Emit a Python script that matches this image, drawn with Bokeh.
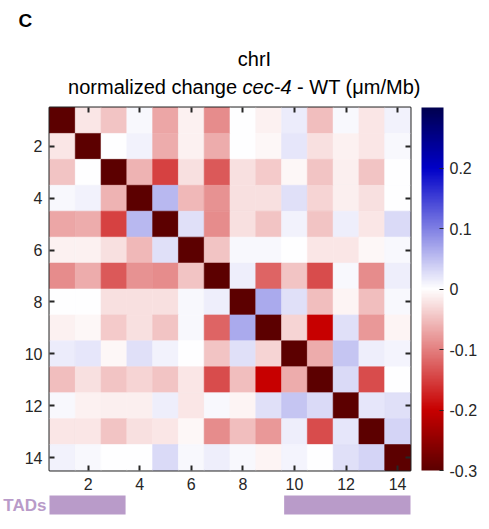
import numpy as np
from bokeh.plotting import figure
from bokeh.models import (LinearColorMapper, ColorBar, FixedTicker, LinearAxis, Range1d,
                          CustomJSTickFormatter, ColumnDataSource)
from bokeh.layouts import column
from bokeh.embed import file_html
from bokeh.resources import INLINE
from bokeh.core.properties import value

# ---------------- data ----------------
bins = list(range(1, 15))
N = None  # diagonal (masked)
row01 = [N, -0.02, -0.045, 0.005, -0.07, -0.01, -0.09, 0.0, -0.01, 0.015, -0.05, 0.005, -0.02, 0.01]
row02 = [-0.02, N, 0.0, 0.01, -0.065, -0.01, -0.065, 0.0, -0.005, 0.02, -0.025, -0.01, -0.02, 0.005]
row03 = [-0.045, 0.0, N, -0.06, -0.15, -0.025, -0.13, -0.025, -0.04, -0.005, -0.045, -0.012, -0.045, 0.0]
row04 = [0.005, 0.01, -0.06, N, 0.055, -0.055, -0.085, -0.025, -0.025, 0.025, -0.035, -0.012, -0.025, 0.0]
row05 = [-0.07, -0.065, -0.15, 0.055, N, 0.025, -0.09, -0.025, -0.045, 0.01, -0.045, 0.012, -0.02, 0.03]
row06 = [-0.01, -0.01, -0.025, -0.055, 0.025, N, -0.045, 0.005, 0.005, 0.0, -0.02, -0.02, -0.005, 0.005]
row07 = [-0.09, -0.065, -0.13, -0.085, -0.09, -0.045, N, 0.012, -0.12, -0.045, -0.14, 0.005, -0.09, 0.012]
row08 = [0.0, 0.0, -0.025, -0.025, -0.025, 0.005, 0.012, N, 0.067, 0.025, -0.05, -0.008, -0.05, 0.005]
row09 = [-0.01, -0.005, -0.04, -0.025, -0.045, 0.005, -0.12, 0.067, N, -0.035, -0.2, 0.025, -0.08, -0.008]
row10 = [0.015, 0.02, -0.005, 0.025, 0.01, 0.0, -0.045, 0.025, -0.035, N, -0.065, 0.045, 0.012, 0.008]
row11 = [-0.05, -0.025, -0.045, -0.035, -0.045, -0.02, -0.14, -0.05, -0.2, -0.065, N, 0.03, -0.14, 0.0]
row12 = [0.005, -0.01, -0.012, -0.012, 0.012, -0.02, 0.005, -0.008, 0.025, 0.045, 0.03, N, 0.02, 0.025]
row13 = [-0.02, -0.02, -0.045, -0.025, -0.02, -0.005, -0.09, -0.05, -0.08, 0.012, -0.14, 0.02, N, 0.035]
row14 = [0.01, 0.005, 0.0, 0.0, 0.03, 0.005, 0.012, 0.005, -0.008, 0.008, 0.0, 0.025, 0.035, N]
matrix = [row01, row02, row03, row04, row05, row06, row07,
          row08, row09, row10, row11, row12, row13, row14]

axis_ticks = [2, 4, 6, 8, 10, 12, 14]
cbar_ticks = [-0.3, -0.2, -0.1, 0, 0.1, 0.2]
clim = (-0.3, 0.3)

tad_start = [0.5, 9.6]
tad_end = [3.45, 14.5]

# ---------------- colormap ----------------
anchor_v = [-0.3, -0.2, 0.0, 0.2, 0.3]
anchor_c = [(92, 0, 0), (200, 0, 0), (255, 255, 255), (0, 0, 200), (0, 0, 80)]
grid = np.linspace(clim[0], clim[1], 256)
palette = []
for g in grid:
    rgb = [int(round(np.interp(g, anchor_v, [c[k] for c in anchor_c]))) for k in range(3)]
    palette.append("#%02x%02x%02x" % tuple(rgb))
mapper = LinearColorMapper(palette=palette, low=clim[0], high=clim[1], nan_color=palette[0])

xs, ys, vs = [], [], []
for i, row in enumerate(matrix):
    for j, v in enumerate(row):
        xs.append(bins[j]); ys.append(bins[i])
        vs.append(np.nan if v is None else v)
src = ColumnDataSource(dict(x=xs, y=ys, v=vs))

FONT = "Liberation Sans"
DARK = "#262626"
W, FL, FW, FR = 489, 49, 361, 79   # canvas width, frame left, frame width, right panel

# ---------------- header ----------------
head = figure(width=W, height=105, x_range=Range1d(0, W), y_range=Range1d(105, 0),
              x_axis_location=None, y_axis_location=None, min_border=0, frame_align=False,
              toolbar_location=None, output_backend="svg", outline_line_color=None)
head.grid.visible = False
head.text(x=[18], y=[20], text=["C"], text_font=value(FONT), text_font_style="bold",
          text_font_size="19px", text_baseline="middle", text_align="left", text_color="black")
head.text(x=[254], y=[58], text=["chrI"], text_font=value(FONT), text_font_size="20px",
          text_baseline="middle", text_align="center", text_color="black")
x0 = 67.6
head.text(x=[x0], y=[86], text=["normalized change"], text_font=value(FONT), text_font_size="20px",
          text_baseline="middle", text_align="left", text_color="black")
head.text(x=[x0 + 174.5], y=[86], text=["cec-4"], text_font=value(FONT), text_font_size="20px",
          text_font_style="italic", text_baseline="middle", text_align="left", text_color="black")
head.text(x=[x0 + 229.0], y=[86], text=["- WT (\u03bcm/Mb)"], text_font=value(FONT),
          text_font_size="20px", text_baseline="middle", text_align="left", text_color="black")

# ---------------- main heatmap ----------------
p = figure(frame_width=FW, frame_height=363, x_range=Range1d(0.5, 14.5), y_range=Range1d(14.5, 0.5),
           min_border_left=FL, min_border_right=FR, min_border_top=2, min_border_bottom=0,
           toolbar_location=None, output_backend="svg")
p.grid.visible = False
p.outline_line_color = DARK
p.outline_line_width = 2
p.rect(x="x", y="y", width=1, height=1, source=src,
       fill_color={"field": "v", "transform": mapper},
       line_color={"field": "v", "transform": mapper}, line_width=0.6)

for ax in (p.xaxis[0], p.yaxis[0]):
    ax.ticker = FixedTicker(ticks=axis_ticks)
    ax.major_tick_in = 5
    ax.major_tick_out = 0
    ax.minor_tick_line_color = None
    ax.axis_line_color = None
    ax.major_tick_line_color = DARK
    ax.major_tick_line_width = 2
    ax.major_label_text_font = FONT
    ax.major_label_text_font_size = "16px"
    ax.major_label_text_color = DARK
    ax.major_label_standoff = 7

for loc in ("above", "right"):
    a = LinearAxis(ticker=FixedTicker(ticks=axis_ticks), major_tick_in=5, major_tick_out=0,
                   minor_tick_line_color=None, axis_line_color=None, major_tick_line_color=DARK,
                   major_tick_line_width=2, major_label_text_font_size="2px",
                   major_label_text_color=None, major_label_standoff=0)
    p.add_layout(a, loc)

cb = ColorBar(color_mapper=mapper, ticker=FixedTicker(ticks=cbar_ticks),
              formatter=CustomJSTickFormatter(code="return Number(tick.toFixed(1)).toString();"),
              width=22, padding=0, margin=0, location=(11, 0), label_standoff=6,
              major_label_text_font=FONT, major_label_text_font_size="16px",
              major_label_text_color=DARK, major_tick_line_color=DARK, major_tick_in=4,
              major_tick_out=0, bar_line_color=None, border_line_color=None,
              background_fill_color=None)
p.add_layout(cb, "right")

# ---------------- TAD bars (full-width strip, same x mapping as the heatmap) ----------------
px = (p.x_range.end - p.x_range.start) / FW
foot = figure(width=W, height=34, frame_align=False, min_border=0,
              x_range=Range1d(p.x_range.start - FL * px, p.x_range.end + FR * px),
              y_range=Range1d(34, 0),
              x_axis_location=None, y_axis_location=None, toolbar_location=None,
              output_backend="svg", outline_line_color=None)
foot.grid.visible = False
foot.quad(left=tad_start, right=tad_end, top=3, bottom=22, fill_color="#b99bc9", line_color=None)
foot.text(x=[p.x_range.start - 3 * px], y=[12.5], text=["TADs"], text_align="right",
          text_baseline="middle", text_font=value(FONT), text_font_style="bold",
          text_font_size="17px", text_color="#b99bc9")

layout = column(head, p, foot, spacing=0)
open("out.html", "w").write(file_html(layout, INLINE))
